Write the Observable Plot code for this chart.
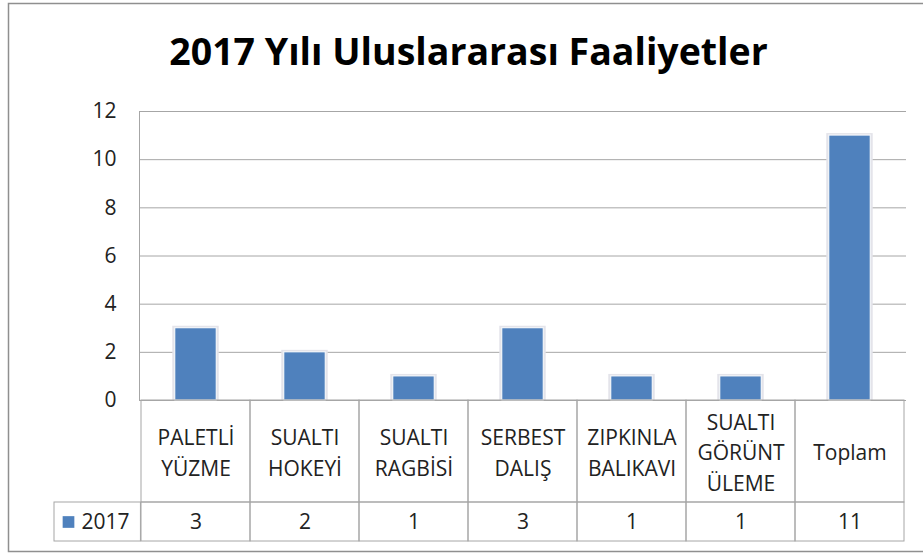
<!DOCTYPE html>
<html>
<head>
<meta charset="utf-8">
<script src="https://cdn.jsdelivr.net/npm/d3@7"></script>
<script src="https://cdn.jsdelivr.net/npm/@observablehq/plot@0.6"></script>
<style>
  html, body { margin: 0; padding: 0; background: #fff; }
  #chart svg { display: block; }
</style>
</head>
<body>
<div id="chart"></div>
<script>
const title = "2017 Yılı Uluslararası Faaliyetler";
const seriesName = "2017";
const categories = ["PALETLİ\nYÜZME", "SUALTI\nHOKEYİ", "SUALTI\nRAGBİSİ", "SERBEST\nDALIŞ", "ZIPKINLA\nBALIKAVI", "SUALTI\nGÖRÜNT\nÜLEME", "Toplam"];
const values = [3, 2, 1, 3, 1, 1, 11];
const yTicks = [0, 2, 4, 6, 8, 10, 12];

const data = categories.map((c, i) => ({cat: c, value: values[i]}));

const W = 923, H = 553;
const mL = 139, mR = 17, mT = 111, mB = 153;
const step = (W - mL - mR) / categories.length;
const row1 = 102, row2 = 141;
const barInset = (step - 42) / 2;
const font = "'Open Sans', sans-serif";
const gridColor = "#a6a6a6";
const blue = "#4F81BD";

const chart = Plot.plot({
  width: W,
  height: H,
  marginLeft: mL,
  marginRight: mR,
  marginTop: mT,
  marginBottom: mB,
  style: {fontFamily: font, background: "#fff", overflow: "visible"},
  x: {domain: categories, padding: 0, axis: null},
  y: {domain: [0, 12], ticks: yTicks, axis: null},
  marks: [
    // outer chart border
    Plot.frame({stroke: "#8f8f8f", strokeWidth: 1.5, insetLeft: -131, insetTop: -108, insetBottom: -151, insetRight: -20}),
    // gridlines
    Plot.gridY(yTicks, {stroke: gridColor, strokeOpacity: 1, strokeWidth: 1}),
    // y tick labels
    Plot.axisY({ticks: yTicks, tickSize: 0, tickPadding: 23, fontSize: 21, fill: "#222", label: null, tickFormat: d => String(d)}),
    // left edge of plot area
    Plot.frame({anchor: "left", stroke: gridColor, strokeWidth: 1}),
    // bar halo
    Plot.barY(data, {x: "cat", y: "value", fill: "#e4e4ea", insetLeft: barInset - 2.5, insetRight: barInset - 2.5, insetTop: -2}),
    // bars
    Plot.barY(data, {x: "cat", y: "value", fill: blue, stroke: "#fff", strokeWidth: 1, insetLeft: barInset, insetRight: barInset}),
    // data table: category row
    Plot.barY(data, {x: "cat", y1: 0, y2: 0, fill: "none", stroke: gridColor, strokeWidth: 1, insetTop: 0, insetBottom: -row1}),
    // data table: values row
    Plot.barY(data, {x: "cat", y1: 0, y2: 0, fill: "none", stroke: gridColor, strokeWidth: 1, insetTop: row1, insetBottom: -row2}),
    // legend cell
    Plot.barY([data[0]], {x: "cat", y1: 0, y2: 0, fill: "none", stroke: gridColor, strokeWidth: 1, insetTop: row1, insetBottom: -row2, insetLeft: -(mL - 52), insetRight: step}),
    // category labels
    Plot.text(data, {x: "cat", y: 0, text: "cat", dy: row1 / 2 - 1, lineAnchor: "middle", lineHeight: 1.46, fontSize: 21, fill: "#222"}),
    // value labels
    Plot.text(data, {x: "cat", y: 0, text: d => String(d.value), dy: (row1 + row2) / 2, lineAnchor: "middle", fontSize: 21, fill: "#222"}),
    // legend swatch + series name
    Plot.dot([seriesName], {frameAnchor: "left", y: () => 0, dx: 68 - mL, dy: (row1 + row2) / 2, symbol: "square", r: 6.6, fill: blue, stroke: "none"}),
    Plot.text([seriesName], {frameAnchor: "left", y: () => 0, text: d => d, dx: 81 - mL, dy: (row1 + row2) / 2, textAnchor: "start", lineAnchor: "middle", fontSize: 21, fill: "#222"}),
    // title
    Plot.text([title], {frameAnchor: "top", text: d => d, dx: 468 - (mL + (W - mL - mR) / 2), dy: 52 - mT, lineAnchor: "middle", fontSize: 37.5, fontWeight: "bold", fill: "#000"})
  ]
});

document.getElementById("chart").appendChild(chart);
</script>
</body>
</html>
